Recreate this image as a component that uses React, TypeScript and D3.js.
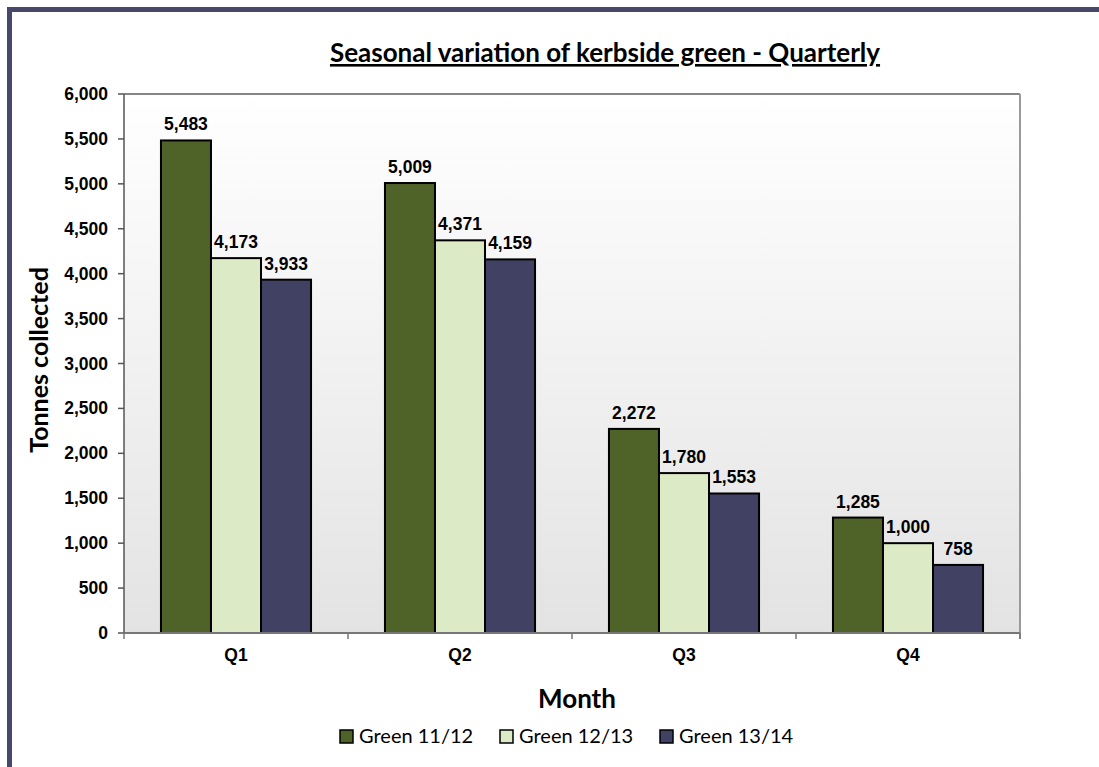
import React from "react";
import * as d3 from "d3";

const categories = ["Q1", "Q2", "Q3", "Q4"];
const seriesNames = ["Green 11/12", "Green 12/13", "Green 13/14"];
const green1112 = [5483, 5009, 2272, 1285];
const green1213 = [4173, 4371, 1780, 1000];
const green1314 = [3933, 4159, 1553, 758];
const seriesColors = ["#4f6228", "#ddeac6", "#414163"];
const yTicks = [0, 500, 1000, 1500, 2000, 2500, 3000, 3500, 4000, 4500, 5000, 5500, 6000];

const seriesValues = [green1112, green1213, green1314];

export default function App() {
  const W = 1099, H = 767;
  const left = 124, right = 1020, top = 94, bottom = 633;
  const y = d3.scaleLinear().domain([0, 6000]).range([bottom, top]);
  const x = d3.scaleBand().domain(categories).range([left, right]).paddingInner(0).paddingOuter(0);
  const bw = x.bandwidth();
  const inner = d3.scaleBand().domain(seriesNames).range([bw * 0.165, bw * 0.835]);
  const fmt = d3.format(",");
  const numFont = "'Liberation Sans', Arial, sans-serif";
  const calFont = "Lato, 'Open Sans', sans-serif";

  const boundaries = d3.range(categories.length + 1).map((i) => left + i * bw);

  return (
    <svg width={W} height={H} style={{ position: "absolute", left: 0, top: 0, background: "#fff" }}>
      <defs>
        <linearGradient id="bg" x1="0" y1="0" x2="0" y2="1">
          <stop offset="0" stopColor="#ffffff" />
          <stop offset="1" stopColor="#e3e3e3" />
        </linearGradient>
      </defs>
      {/* outer frame */}
      <rect x={9.5} y={9.5} width={1300} height={900} fill="none" stroke="#48486a" strokeWidth={5} />

      {/* title */}
      <text x={605} y={62} textAnchor="middle" fontFamily={calFont} fontWeight="bold" fontSize={26} fill="#000" textDecoration="underline">
        Seasonal variation of kerbside green - Quarterly
      </text>

      {/* plot area */}
      <rect x={left} y={top} width={right - left} height={bottom - top} fill="url(#bg)" />
      <line x1={left} y1={top} x2={right} y2={top} stroke="#868686" strokeWidth={2} />
      <line x1={right} y1={top} x2={right} y2={bottom + 6} stroke="#9a9a9a" strokeWidth={2} />

      {/* y axis */}
      <line x1={left} y1={top} x2={left} y2={bottom} stroke="#555" strokeWidth={1.5} />
      {yTicks.map((t) => (
        <g key={t}>
          <line x1={left - 6} x2={left} y1={y(t)} y2={y(t)} stroke="#555" strokeWidth={1.5} />
          <text x={108} y={y(t) + 6} textAnchor="end" fontFamily={numFont} fontWeight="bold" fontSize={17.5} fill="#000">
            {fmt(t)}
          </text>
        </g>
      ))}

      {/* bars */}
      {categories.map((c, ci) => (
        <g key={c}>
          {seriesValues.map((vals, si) => {
            const bx = (x(c) as number) + (inner(seriesNames[si]) as number);
            const v = vals[ci];
            return (
              <g key={si}>
                <rect x={bx} y={y(v)} width={inner.bandwidth()} height={bottom - y(v)} fill={seriesColors[si]} stroke="#000" strokeWidth={2} />
                <text x={bx + inner.bandwidth() / 2} y={y(v) - 10} textAnchor="middle" fontFamily={numFont} fontWeight="bold" fontSize={17.5} fill="#000">
                  {fmt(v)}
                </text>
              </g>
            );
          })}
        </g>
      ))}

      {/* x axis */}
      <line x1={left} y1={bottom} x2={right} y2={bottom} stroke="#777" strokeWidth={2} />
      {boundaries.map((b, i) => (
        <line key={i} x1={b} x2={b} y1={bottom} y2={bottom + 6} stroke="#777" strokeWidth={1.5} />
      ))}
      {categories.map((c) => (
        <text key={c} x={(x(c) as number) + bw / 2} y={661} textAnchor="middle" fontFamily={numFont} fontWeight="bold" fontSize={17.5} fill="#000">
          {c}
        </text>
      ))}

      {/* axis titles */}
      <text x={577} y={708} textAnchor="middle" fontFamily={calFont} fontWeight="bold" fontSize={26} fill="#000">
        Month
      </text>
      <text transform={`translate(48,360) rotate(-90)`} textAnchor="middle" fontFamily={calFont} fontWeight="bold" fontSize={25} fill="#000">
        Tonnes collected
      </text>

      {/* legend */}
      {seriesNames.map((s, i) => {
        const lx = 340 + i * 160;
        return (
          <g key={s}>
            <rect x={lx} y={730} width={13} height={13} fill={seriesColors[i]} stroke="#000" strokeWidth={1.5} />
            <text x={lx + 19} y={743} fontFamily={calFont} fontSize={20} fill="#000">
              {s}
            </text>
          </g>
        );
      })}
    </svg>
  );
}
